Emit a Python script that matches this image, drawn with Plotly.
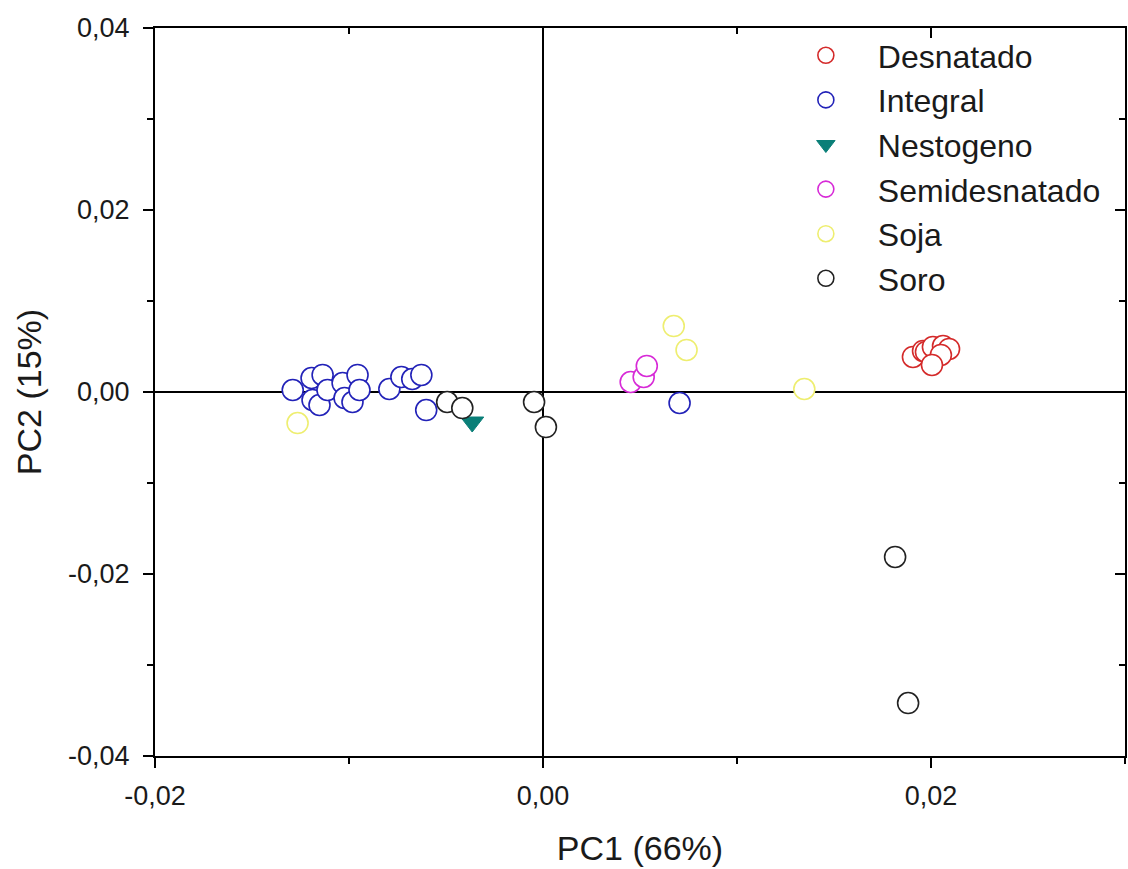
import plotly.graph_objects as go

# PCA scores per milk type (PC1, PC2)
desnatado_x = [0.01907, 0.01959, 0.01974, 0.02010, 0.02062, 0.02093, 0.02051, 0.02005]
desnatado_y = [0.00385, 0.00451, 0.00440, 0.00495, 0.00505, 0.00473, 0.00407, 0.00297]

integral_x = [-0.01290, -0.01193, -0.01136, -0.01188, -0.01152, -0.01111, -0.01033, -0.01023,
              -0.00982, -0.00956, -0.00946, -0.00792, -0.00730, -0.00674, -0.00627, -0.00602, 0.00704]
integral_y = [0.00022, 0.00154, 0.00187, -0.00088, -0.00143, 0.00022, 0.00099, -0.00066,
              -0.00110, 0.00187, 0.00022, 0.00033, 0.00165, 0.00143, 0.00187, -0.00198, -0.00121]

nestogeno_x = [-0.00365]
nestogeno_y = [-0.00330]

semidesnatado_x = [0.00452, 0.00519, 0.00535]
semidesnatado_y = [0.00110, 0.00165, 0.00286]

soja_x = [-0.01265, 0.00674, 0.00740, 0.01347]
soja_y = [-0.00341, 0.00725, 0.00462, 0.00033]

soro_x = [-0.00494, -0.00416, -0.00046, 0.00015, 0.01815, 0.01882]
soro_y = [-0.00110, -0.00176, -0.00110, -0.00385, -0.01813, -0.03418]

x_tickvals = [-0.02, 0.00, 0.02]
x_ticktext = ["-0,02", "0,00", "0,02"]
y_tickvals = [-0.04, -0.02, 0.00, 0.02, 0.04]
y_ticktext = ["-0,04", "-0,02", "0,00", "0,02", "0,04"]

X_RANGE = [-0.02, 0.03]
Y_RANGE = [-0.04, 0.04]

FONT = "Liberation Sans, Arial, sans-serif"
TEXT = "#1a1a1a"

fig = go.Figure()


def open_circles(name, xs, ys, color, group):
    fig.add_trace(go.Scatter(
        x=xs, y=ys, mode="markers", name=name, legendgroup=group,
        marker=dict(symbol="circle", size=21, color="white",
                    line=dict(color=color, width=1.6)),
    ))


open_circles("Desnatado", desnatado_x, desnatado_y, "#d42a2a", "a")
open_circles("Integral", integral_x, integral_y, "#2222b8", "b")
fig.add_trace(go.Scatter(
    x=nestogeno_x, y=nestogeno_y, mode="markers", name="Nestogeno", legendgroup="c",
    marker=dict(symbol="triangle-down", size=20, color="#0a7f78",
                line=dict(color="#0a7f78", width=1)),
))
open_circles("Semidesnatado", semidesnatado_x, semidesnatado_y, "#d72ad7", "d")
open_circles("Soja", soja_x, soja_y, "#eeee70", "e")
open_circles("Soro", soro_x, soro_y, "#222222", "f")

# empty trace that carries the mirrored top/right axes with inward ticks
fig.add_trace(go.Scatter(x=[], y=[], xaxis="x2", yaxis="y2", showlegend=False,
                         hoverinfo="skip"))

axis_common = dict(
    showgrid=False, linecolor="black", linewidth=2,
    tickcolor="black", tickwidth=2, ticklen=10,
    zeroline=True, zerolinecolor="black", zerolinewidth=2,
)
minor_out = dict(ticks="outside", dtick=0.01, tick0=0, ticklen=6, tickwidth=2,
                 tickcolor="black")
minor_in = dict(ticks="inside", dtick=0.01, tick0=0, ticklen=6, tickwidth=2,
                tickcolor="black")

fig.update_layout(
    width=1128, height=869,
    margin=dict(l=155, r=1, t=28, b=113),
    paper_bgcolor="white", plot_bgcolor="white",
    font=dict(family=FONT, color=TEXT),
    xaxis=dict(
        range=X_RANGE, tickvals=x_tickvals, ticktext=x_ticktext, ticks="outside",
        mirror=True, showline=True, minor=minor_out,
        tickfont=dict(size=27), ticklabelstandoff=5,
        title=dict(text="PC1 (66%)", font=dict(size=34), standoff=26),
        **axis_common,
    ),
    yaxis=dict(
        range=Y_RANGE, tickvals=y_tickvals, ticktext=y_ticktext, ticks="outside",
        mirror=True, showline=True, minor=minor_out,
        tickfont=dict(size=27), ticklabelstandoff=8,
        title=dict(text="PC2 (15%)", font=dict(size=34), standoff=16),
        **axis_common,
    ),
    xaxis2=dict(
        range=X_RANGE, overlaying="x", side="top", anchor="y2",
        tickvals=x_tickvals, ticks="inside", ticklen=10, tickwidth=2, tickcolor="black",
        minor=minor_in, showticklabels=False, showgrid=False, zeroline=False,
        showline=False,
    ),
    yaxis2=dict(
        range=Y_RANGE, overlaying="y", side="right", anchor="x2",
        tickvals=y_tickvals, ticks="inside", ticklen=10, tickwidth=2, tickcolor="black",
        minor=minor_in, showticklabels=False, showgrid=False, zeroline=False,
        showline=False,
    ),
    legend=dict(
        x=0.638, y=1.0, xanchor="left", yanchor="top",
        bgcolor="rgba(0,0,0,0)", borderwidth=0,
        font=dict(size=32, family=FONT, color=TEXT),
        traceorder="grouped", tracegroupgap=0, itemwidth=94,
    ),
    showlegend=True,
)

fig.write_html("out.html")
